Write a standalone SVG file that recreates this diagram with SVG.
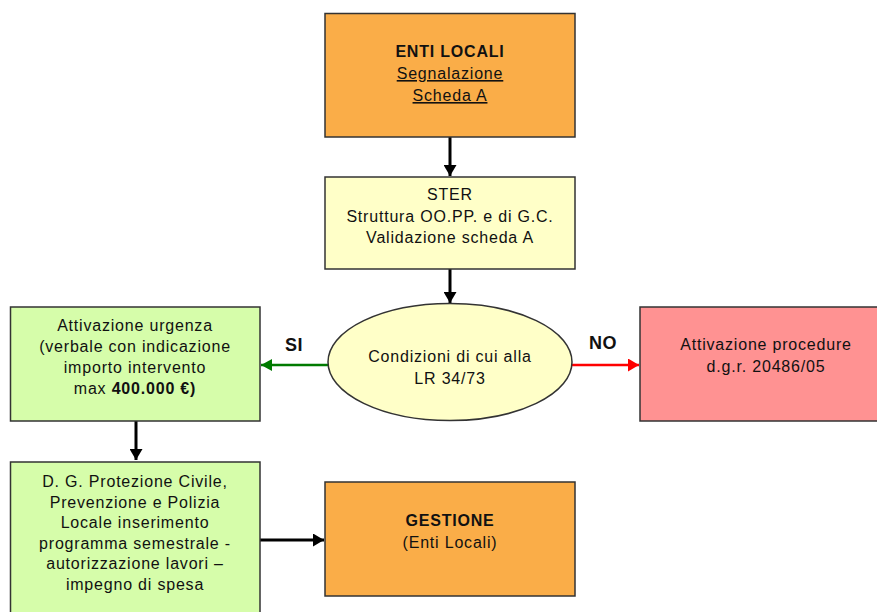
<svg xmlns="http://www.w3.org/2000/svg" width="877" height="612" viewBox="0 0 877 612">
<style>
  .box { stroke: #333; stroke-width: 1.5; }
  .orange { fill: #FAAD48; }
  .yellow { fill: #FFFFC8; }
  .green { fill: #D6FDAA; }
  .red { fill: #FF9292; }
  text { font-family: "Liberation Sans", Arial, sans-serif; font-size: 16px; fill: #111; text-anchor: middle; letter-spacing: 0.8px; }
  .b { font-weight: bold; }
  .u { text-decoration: underline; }
  .lbl { font-size: 18px; font-weight: bold; letter-spacing: 0.5px; }
  .blk { stroke: #000; stroke-width: 3; fill: none; }
</style>
<defs>
  <marker id="ab" markerUnits="userSpaceOnUse" markerWidth="12" markerHeight="13" refX="11" refY="6.5" orient="auto">
    <path d="M0,0 L11,6.5 L0,13 z" fill="#000"/>
  </marker>
  <marker id="ag" markerUnits="userSpaceOnUse" markerWidth="12" markerHeight="12" refX="11" refY="6" orient="auto">
    <path d="M0,0 L11,6 L0,12 z" fill="#007A00"/>
  </marker>
  <marker id="ar" markerUnits="userSpaceOnUse" markerWidth="12" markerHeight="13" refX="11" refY="6.5" orient="auto">
    <path d="M0,0 L11,6.5 L0,13 z" fill="#F00"/>
  </marker>
</defs>

<g id="connectors">
  <line class="blk" x1="450" y1="137" x2="450" y2="176" marker-end="url(#ab)"/>
  <line class="blk" x1="450" y1="269" x2="450" y2="303" marker-end="url(#ab)"/>
  <line x1="328" y1="365" x2="261" y2="365" stroke="#007A00" stroke-width="2.5" marker-end="url(#ag)"/>
  <line x1="572" y1="365" x2="639" y2="365" stroke="#F00" stroke-width="2.5" marker-end="url(#ar)"/>
  <line class="blk" x1="136" y1="421" x2="136" y2="460" marker-end="url(#ab)"/>
  <line class="blk" x1="260" y1="540" x2="324" y2="540" marker-end="url(#ab)"/>
  <text class="lbl" x="294" y="351">SI</text>
  <text class="lbl" x="603" y="349">NO</text>
</g>

<g id="enti-locali">
  <rect class="box orange" x="325" y="13.5" width="250" height="123.5"/>
  <text class="b" x="450" y="57">ENTI LOCALI</text>
  <text class="u" x="450" y="79">Segnalazione</text>
  <text class="u" x="450" y="101">Scheda A</text>
</g>

<g id="ster">
  <rect class="box yellow" x="325" y="177" width="250" height="92"/>
  <text x="450" y="200">STER</text>
  <text x="450" y="221.5">Struttura OO.PP. e di G.C.</text>
  <text x="450" y="243">Validazione scheda A</text>
</g>

<g id="condizioni">
  <ellipse class="box yellow" cx="450" cy="362" rx="122" ry="58.5"/>
  <text x="450" y="362">Condizioni di cui alla</text>
  <text x="450" y="384">LR 34/73</text>
</g>

<g id="attivazione-urgenza">
  <rect class="box green" x="10.5" y="307" width="249.5" height="114"/>
  <text x="135" y="331">Attivazione urgenza</text>
  <text x="135" y="352">(verbale con indicazione</text>
  <text x="135" y="373">importo intervento</text>
  <text x="135" y="394">max <tspan class="b">400.000 €)</tspan></text>
</g>

<g id="attivazione-procedure">
  <rect class="box red" x="640" y="307" width="260" height="114"/>
  <text x="766" y="350">Attivazione procedure</text>
  <text x="766" y="372">d.g.r. 20486/05</text>
</g>

<g id="dg-protezione-civile">
  <rect class="box green" x="10.5" y="462" width="249.5" height="170"/>
  <text x="135" y="487">D. G. Protezione Civile,</text>
  <text x="135" y="507.5">Prevenzione e Polizia</text>
  <text x="135" y="528">Locale inserimento</text>
  <text x="135" y="548.5">programma semestrale -</text>
  <text x="135" y="569">autorizzazione lavori –</text>
  <text x="135" y="589.5">impegno di spesa</text>
</g>

<g id="gestione">
  <rect class="box orange" x="325" y="482" width="250" height="114"/>
  <text class="b" x="450" y="526">GESTIONE</text>
  <text x="450" y="548">(Enti Locali)</text>
</g>
</svg>
